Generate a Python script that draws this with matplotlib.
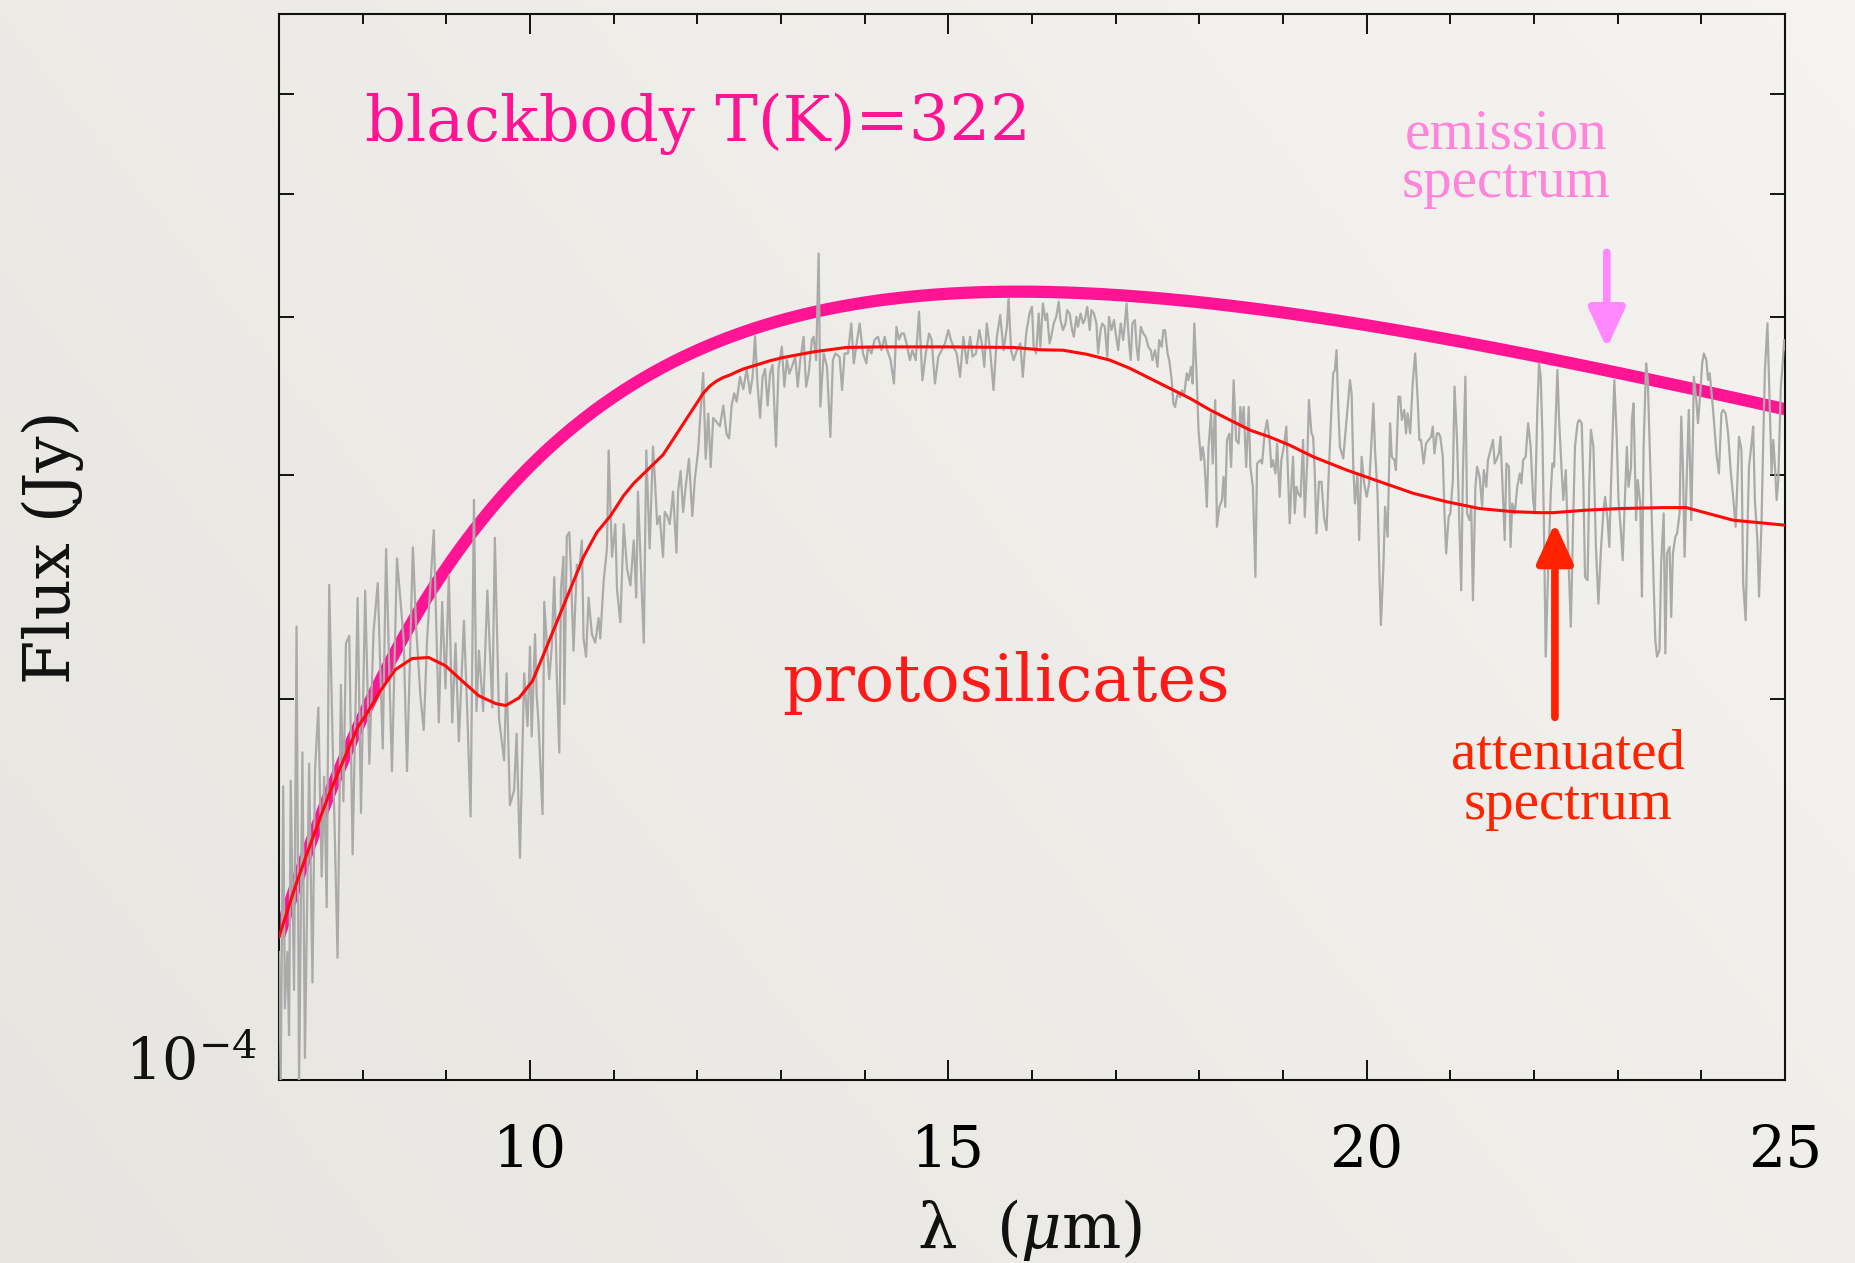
import numpy as np
import matplotlib
matplotlib.use("Agg")
import matplotlib.pyplot as plt
from matplotlib.ticker import FixedLocator, NullFormatter
import matplotlib.transforms as mtransforms

# ---------------------------------------------------------------
# Observed mid-IR spectrum: wavelength (micron), flux (1e-4 Jy)
# ---------------------------------------------------------------
obs_wl = [
    7.00, 7.02, 7.05, 7.07, 7.10, 7.12, 7.14, 7.18, 7.21, 7.24, 7.28, 7.31, 7.36, 7.40,
    7.43, 7.47, 7.51, 7.54, 7.57, 7.60, 7.64, 7.70, 7.74, 7.77, 7.80, 7.84, 7.88, 7.94,
    7.98, 8.03, 8.08, 8.13, 8.18, 8.24, 8.28, 8.35, 8.41, 8.49, 8.53, 8.60, 8.64, 8.69,
    8.73, 8.77, 8.85, 8.91, 8.95, 8.99, 9.03, 9.07, 9.11, 9.15, 9.21, 9.25, 9.29, 9.33,
    9.36, 9.39, 9.44, 9.49, 9.55, 9.58, 9.63, 9.69, 9.72, 9.76, 9.81, 9.84, 9.88, 9.93,
    9.97,
    10.00, 10.02, 10.06, 10.08, 10.10, 10.15, 10.17, 10.20, 10.23, 10.26, 10.29, 10.32,
    10.35, 10.37, 10.40, 10.41, 10.44, 10.47, 10.49, 10.52, 10.56, 10.59, 10.62, 10.64,
    10.67, 10.70, 10.74, 10.78, 10.82, 10.84, 10.88, 10.92, 10.94, 10.98, 11.02, 11.04,
    11.08, 11.12, 11.16, 11.20, 11.24, 11.27, 11.29, 11.33, 11.36, 11.39, 11.43, 11.47,
    11.49, 11.52, 11.55, 11.59, 11.61, 11.64, 11.67, 11.71, 11.75, 11.77, 11.80, 11.83,
    11.86, 11.90, 11.94, 11.97, 12.01, 12.04, 12.07, 12.10, 12.13, 12.16, 12.19, 12.23,
    12.27, 12.31, 12.35, 12.38, 12.41, 12.44, 12.47, 12.51, 12.55, 12.59, 12.63, 12.66,
    12.69, 12.72, 12.75, 12.78, 12.81, 12.84, 12.87, 12.90, 12.94, 12.97,
    13.01, 13.04, 13.07, 13.10, 13.13, 13.17, 13.20, 13.23, 13.27, 13.30, 13.33, 13.37,
    13.39, 13.42, 13.45, 13.47, 13.51, 13.55, 13.59, 13.62, 13.65, 13.70, 13.73, 13.76,
    13.80, 13.84, 13.87, 13.91, 13.94, 13.98, 14.02, 14.04, 14.08, 14.12, 14.16, 14.20,
    14.24, 14.27, 14.31, 14.35, 14.38, 14.41, 14.44, 14.47, 14.50, 14.54, 14.57, 14.61,
    14.65, 14.69, 14.73, 14.77, 14.80, 14.84, 14.88, 14.92, 14.96, 15.00, 15.03, 15.06,
    15.10, 15.14, 15.18, 15.22, 15.26, 15.29, 15.33, 15.37, 15.40, 15.43, 15.46, 15.50,
    15.54, 15.58, 15.62, 15.66, 15.70, 15.72, 15.75, 15.78, 15.82, 15.86, 15.89, 15.93,
    15.97,
    16.00, 16.02, 16.05, 16.08, 16.10, 16.13, 16.16, 16.18, 16.21, 16.23, 16.26, 16.29,
    16.32, 16.34, 16.37, 16.40, 16.42, 16.45, 16.48, 16.50, 16.53, 16.55, 16.58, 16.61,
    16.63, 16.66, 16.69, 16.71, 16.74, 16.77, 16.79, 16.82, 16.84, 16.87, 16.90, 16.92,
    16.95, 16.98, 17.00, 17.03, 17.06, 17.09, 17.11, 17.13, 17.16, 17.18, 17.20, 17.23,
    17.25, 17.27, 17.30, 17.33, 17.36, 17.39, 17.42, 17.44, 17.47, 17.50, 17.52, 17.55,
    17.57, 17.59, 17.62, 17.64, 17.67, 17.69, 17.71, 17.74, 17.77, 17.79, 17.82, 17.85,
    17.87, 17.90, 17.92, 17.94, 17.97, 17.99, 18.02, 18.04, 18.06, 18.09, 18.11, 18.14,
    18.16, 18.19, 18.21, 18.24, 18.27, 18.29, 18.31, 18.33, 18.36, 18.38, 18.41, 18.44,
    18.47, 18.49, 18.51, 18.53, 18.56, 18.59, 18.61, 18.64, 18.67, 18.69, 18.73, 18.75,
    18.78, 18.81, 18.84, 18.86, 18.88, 18.91, 18.93,
    18.96, 18.98, 19.01, 19.04, 19.06, 19.08, 19.10, 19.12, 19.14, 19.16, 19.18, 19.21,
    19.24, 19.26, 19.29, 19.31, 19.34, 19.36, 19.38, 19.40, 19.43, 19.46, 19.49, 19.52,
    19.55, 19.58, 19.60, 19.62, 19.64, 19.66, 19.68, 19.72, 19.76, 19.80, 19.82, 19.84,
    19.86, 19.89, 19.91, 19.94, 19.97, 20.00, 20.03, 20.05, 20.08, 20.10, 20.13, 20.15,
    20.17, 20.20, 20.22, 20.25, 20.28, 20.30, 20.33, 20.35, 20.38, 20.40, 20.42, 20.45,
    20.47, 20.49, 20.52, 20.55, 20.58, 20.61, 20.63, 20.65, 20.68, 20.71, 20.74, 20.77,
    20.79, 20.81, 20.84, 20.86, 20.88, 20.91, 20.93, 20.95, 20.98, 21.00, 21.03, 21.05,
    21.08, 21.10, 21.13, 21.15, 21.18, 21.20, 21.23, 21.25, 21.27, 21.30, 21.32, 21.35,
    21.38, 21.40, 21.43, 21.45, 21.48, 21.51, 21.53, 21.55, 21.58, 21.60, 21.63, 21.65,
    21.67, 21.70, 21.72, 21.74, 21.77, 21.80,
    21.83, 21.85, 21.87, 21.90, 21.93, 21.96, 21.99, 22.01, 22.04, 22.06, 22.08, 22.10,
    22.12, 22.14, 22.17, 22.20, 22.22, 22.24, 22.26, 22.28, 22.30, 22.33, 22.35, 22.38,
    22.41, 22.44, 22.47, 22.49, 22.52, 22.54, 22.57, 22.59, 22.61, 22.64, 22.66, 22.68,
    22.71, 22.74, 22.77, 22.80, 22.83, 22.85, 22.88, 22.90, 22.92, 22.94, 22.96, 22.99,
    23.01, 23.04, 23.06, 23.08, 23.11, 23.13, 23.16, 23.17, 23.19, 23.22, 23.24, 23.27,
    23.29, 23.31, 23.34, 23.36, 23.39, 23.42, 23.45, 23.47, 23.50, 23.52, 23.55, 23.57,
    23.59, 23.62, 23.64, 23.66, 23.69, 23.71, 23.74, 23.76, 23.78, 23.80, 23.82, 23.85,
    23.88, 23.90, 23.91, 23.94, 23.96, 23.99, 24.01, 24.03, 24.06, 24.08, 24.10, 24.13,
    24.15, 24.18, 24.21, 24.24, 24.26, 24.29, 24.32, 24.35, 24.38, 24.41, 24.43, 24.45,
    24.48, 24.50, 24.53, 24.55, 24.57, 24.60, 24.62, 24.64, 24.67, 24.69, 24.72, 24.74,
    24.76, 24.79, 24.81, 24.84, 24.86, 24.88, 24.90, 24.92, 24.95, 24.97, 24.99, 25.01,
]
obs_flux = [
    1.262, 0.990, 1.705, 1.139, 1.262, 1.085, 1.723, 1.178, 2.280, 0.990, 1.814, 1.041, 1.777, 1.194,
    1.753, 1.968, 1.447, 1.735, 1.369, 2.459, 1.864, 1.249, 2.051, 1.659, 2.211, 2.242, 1.507, 2.401,
    1.625, 2.434, 1.777, 2.258, 2.467, 1.826, 2.624, 1.753, 2.580, 2.227, 1.753, 2.633, 2.273, 2.010,
    1.889, 2.227, 2.716, 1.915, 2.384, 2.037, 2.502, 1.915, 2.211, 1.851, 2.304, 1.955, 1.614, 2.869,
    1.955, 2.182, 1.955, 2.434, 1.968, 2.679, 1.928, 1.788, 2.094, 1.648, 1.693, 1.876, 1.497, 2.094,
    1.902,
    2.198, 1.867, 2.248, 2.011, 1.923, 1.621, 2.385, 2.214, 2.072, 2.198, 2.494, 2.087,
    1.813, 2.439, 2.588, 1.981, 2.686, 2.706, 2.512, 2.182, 2.550, 2.531, 2.666, 2.231,
    2.158, 2.403, 2.248, 2.214, 2.315, 2.231, 2.476, 2.627, 3.140, 2.588, 2.746, 2.439,
    2.298, 2.746, 2.531, 2.457, 2.666, 2.403, 2.914, 2.494, 2.214, 3.140, 2.627, 3.162,
    3.002, 2.746, 2.787, 2.588, 2.808, 2.787, 2.746, 2.914, 2.608, 2.914, 3.024, 2.808,
    2.936, 3.092, 2.787, 2.980, 3.140, 3.381, 3.614, 3.092, 3.356, 3.047, 3.331, 3.306,
    3.281, 3.406, 3.233, 3.209, 3.406, 3.483, 3.431, 3.588, 3.509, 3.641, 3.483, 3.588,
    3.864, 3.535, 3.331, 3.588, 3.641, 3.406, 3.614, 3.668, 3.162, 3.641,
    3.791, 3.525, 3.700, 3.610, 3.655, 3.722, 3.525, 3.700, 3.860, 3.525, 3.610, 3.840,
    3.860, 3.700, 4.491, 3.400, 3.745, 3.655, 3.218, 3.700, 3.745, 3.722, 3.504, 3.745,
    3.745, 3.954, 3.678, 3.840, 3.954, 3.745, 3.678, 3.791, 3.745, 3.840, 3.860, 3.767,
    3.860, 3.767, 3.700, 3.546, 3.930, 3.840, 3.883, 3.883, 3.814, 3.700, 3.767, 3.700,
    4.040, 3.567, 3.745, 3.883, 3.840, 3.546, 3.722, 3.767, 3.814, 3.907, 3.840, 3.791,
    3.745, 3.589, 3.860, 3.678, 3.860, 3.722, 3.745, 3.907, 3.814, 3.655, 3.954, 3.767,
    3.504, 3.860, 4.016, 3.767, 3.930, 4.139, 3.767, 3.700, 3.767, 3.814, 3.589, 3.883,
    4.027,
    4.076, 3.790, 3.745, 4.027, 3.790, 4.101, 3.979, 4.027, 3.814, 3.860, 3.955, 4.003,
    4.114, 3.979, 3.907, 3.955, 4.052, 4.027, 3.907, 3.860, 4.003, 3.931, 4.027, 3.955,
    3.979, 4.076, 3.907, 4.052, 4.027, 3.955, 3.745, 3.907, 3.955, 3.931, 3.722, 4.003,
    3.907, 3.979, 3.884, 3.767, 3.955, 3.837, 3.955, 4.101, 3.814, 3.700, 3.955, 3.979,
    3.790, 3.700, 3.931, 3.884, 3.860, 3.790, 3.767, 3.700, 3.767, 3.655, 3.837, 3.790,
    3.907, 3.907, 3.745, 3.700, 3.567, 3.419, 3.398, 3.481, 3.460, 3.502, 3.481, 3.612,
    3.567, 3.655, 3.546, 3.955, 3.567, 3.257, 3.085, 3.160, 3.085, 2.834, 3.160, 3.357,
    3.066, 3.440, 2.733, 2.834, 2.868, 2.992, 2.834, 3.199, 3.237, 3.047, 3.567, 3.199,
    3.179, 3.398, 3.277, 3.398, 3.047, 3.398, 3.047, 2.938, 2.495, 3.066, 3.085, 3.066,
    3.237, 3.317, 3.199, 3.047, 3.085, 3.011, 3.179,
    2.886, 3.085, 3.161, 3.279, 3.011, 2.750, 2.939, 3.104, 2.800, 2.939, 2.904, 2.886,
    3.200, 2.783, 3.085, 3.441, 3.239, 3.219, 3.011, 2.700, 2.966, 2.966, 2.783, 2.716,
    3.048, 3.400, 3.612, 3.634, 3.768, 3.400, 3.161, 3.094, 3.319, 3.568, 3.483, 3.048,
    2.851, 3.011, 2.668, 3.104, 2.957, 2.886, 2.957, 3.123, 3.420, 3.142, 2.904, 2.541,
    2.286, 2.541, 2.834, 2.684, 3.299, 3.104, 3.085, 3.030, 3.462, 3.462, 3.319, 3.380,
    3.239, 3.359, 3.239, 3.547, 3.745, 3.441, 3.200, 3.200, 3.066, 3.180, 3.200, 3.219,
    3.279, 3.123, 3.239, 3.239, 3.219, 3.104, 2.800, 2.604, 2.783, 2.800, 2.975, 3.526,
    3.200, 2.869, 2.435, 3.011, 3.590, 2.800, 2.766, 2.834, 2.391, 2.939, 3.048, 2.993,
    2.834, 3.030, 2.939, 3.085, 3.142, 3.200, 3.066, 3.085, 3.123, 3.219, 2.869, 2.668,
    3.066, 3.048, 2.635, 2.851, 2.800, 2.939,
    3.011, 2.957, 3.085, 3.104, 3.299, 3.161, 2.869, 2.800, 3.380, 3.678, 3.590, 3.239,
    2.700, 2.158, 2.541, 2.904, 3.066, 3.048, 3.339, 3.634, 3.319, 3.030, 2.869, 3.030,
    2.604, 2.279, 2.800, 3.161, 3.299, 3.319, 3.299, 2.957, 2.495, 2.480, 2.939, 3.259,
    3.161, 2.635, 2.377, 2.620, 2.817, 2.886, 2.766, 2.635, 2.939, 3.239, 3.568, 3.200,
    2.869, 2.700, 2.572, 2.800, 3.161, 2.939, 3.048, 3.319, 3.420, 2.766, 2.975, 2.851,
    2.407, 3.161, 3.678, 3.568, 3.048, 2.604, 2.224, 2.158, 2.184, 2.556, 2.800, 2.171,
    2.604, 2.635, 2.320, 2.604, 2.684, 2.700, 2.800, 3.339, 3.048, 2.588, 2.904, 3.380,
    2.766, 3.239, 3.590, 3.441, 3.299, 3.504, 3.678, 3.745, 3.700, 3.568, 3.612, 3.441,
    3.319, 3.123, 3.011, 3.359, 3.380, 3.359, 3.239, 3.030, 2.886, 2.733, 2.957, 3.219,
    3.142, 2.465, 2.306, 2.700, 3.048, 3.180, 3.279, 2.869, 2.668, 2.407, 2.766, 3.200,
    3.634, 3.956, 3.547, 3.011, 3.200, 3.048, 2.869, 2.975, 3.526, 3.656, 3.837, 3.768,
]

# Attenuated model spectrum (protosilicates), flux in 1e-4 Jy
model_wl = [7.00, 7.20, 7.40, 7.60, 7.80, 7.94, 8.04, 8.20, 8.39, 8.59, 8.79, 8.99, 9.19,
            9.39, 9.59, 9.71, 9.87, 10.03, 10.16, 10.32, 10.48, 10.64, 10.80, 10.96,
            11.12, 11.24, 11.39, 11.59, 11.75, 11.91, 12.07, 12.15, 12.23, 12.31, 12.39,
            12.47, 12.55, 12.71, 12.87, 13.03, 13.39, 13.78, 14.18, 15.00, 15.78, 16.10,
            16.37, 16.65, 16.93, 17.17, 17.41, 17.65, 17.89, 18.13, 18.37, 18.61, 18.84,
            19.08, 19.36, 19.76, 20.16, 20.56, 20.96, 21.35, 21.75, 22.07, 22.23, 22.63,
            23.03, 23.55, 23.82, 24.38, 25.00]
model_flux = [1.297, 1.425, 1.551, 1.682, 1.807, 1.898, 1.942, 2.023, 2.108, 2.151, 2.155,
              2.123, 2.065, 2.010, 1.982, 1.975, 2.003, 2.065, 2.165, 2.298, 2.439, 2.588,
              2.706, 2.787, 2.893, 2.958, 3.024, 3.115, 3.233, 3.356, 3.483, 3.530, 3.562,
              3.585, 3.601, 3.622, 3.641, 3.668, 3.696, 3.718, 3.756, 3.786, 3.790, 3.790,
              3.786, 3.770, 3.767, 3.740, 3.700, 3.645, 3.579, 3.514, 3.451, 3.379, 3.317,
              3.257, 3.218, 3.170, 3.104, 3.030, 2.966, 2.904, 2.860, 2.825, 2.809, 2.804,
              2.804, 2.817, 2.825, 2.830, 2.830, 2.766, 2.741]

# Blackbody emission: temperature and peak flux density (1e-4 Jy)
bb_temperature = 322.0
bb_peak_flux = 4.19

UNIT = 1e-4
x_major = [10, 15, 20, 25]
x_minor = [7, 8, 9, 11, 12, 13, 14, 16, 17, 18, 19, 21, 22, 23, 24]
y_minor = [2e-4, 3e-4, 4e-4, 5e-4, 6e-4]


def planck_nu_shape(lam_um, temp):
    """B_nu(T) as a function of wavelength, arbitrary normalisation."""
    x = 14387.77 / (lam_um * temp)
    return x ** 3 / np.expm1(x)


# ---------------------------------------------------------------
plt.rcParams["mathtext.fontset"] = "dejavuserif"
HERSHEY = "DejaVu Serif"
SERIF = "Liberation Serif"
INK = "#111111"

W, H = 1856, 1263
fig = plt.figure(figsize=(W / 100, H / 100), dpi=100)
fig.patch.set_facecolor("#eeece7")

# paper-like background shading
bg = fig.add_axes([0, 0, 1, 1], zorder=-10)
bg.axis("off")
gx = np.linspace(0, 1, 256)[None, :]
gy = np.linspace(0, 1, 256)[:, None]
lo = np.array([0.905, 0.898, 0.880])
hi = np.array([0.960, 0.955, 0.940])
t = np.clip(0.65 * gx + 0.35 * (1 - gy), 0, 1)[..., None]
bg.imshow(lo + (hi - lo) * t, extent=[0, 1, 0, 1], aspect="auto", origin="upper")
bg.set_xlim(0, 1)
bg.set_ylim(0, 1)

ax = fig.add_axes([279 / W, 1 - 1080 / H, (1785 - 279) / W, (1080 - 14) / H])
ax.set_facecolor("none")

# blackbody curve for the stated temperature, scaled to its peak
lam = np.linspace(7.0, 25.0, 600)
shape = planck_nu_shape(lam, bb_temperature)
lam_fine = np.linspace(3.0, 60.0, 6000)
bb = shape / planck_nu_shape(lam_fine, bb_temperature).max() * bb_peak_flux * UNIT
ax.plot(lam, bb, color="#ff1493", lw=8.8, solid_capstyle="butt", zorder=2)

ax.plot(obs_wl, np.array(obs_flux) * UNIT, color="#aaaaaa", lw=1.6, zorder=3)
ax.plot(model_wl, np.array(model_flux) * UNIT, color="#ff0a0a", lw=2.2, zorder=4)

ax.set_yscale("log")
ax.set_xlim(7, 25)
ax.set_ylim(1e-4, 6.94e-4)

ax.xaxis.set_major_locator(FixedLocator(x_major))
ax.xaxis.set_minor_locator(FixedLocator(x_minor))
ax.yaxis.set_major_locator(FixedLocator([1e-4]))
ax.yaxis.set_minor_locator(FixedLocator(y_minor))
ax.yaxis.set_major_formatter(NullFormatter())
ax.yaxis.set_minor_formatter(NullFormatter())
ax.set_xticklabels([str(v) for v in x_major], family=HERSHEY, fontsize=42)

ax.tick_params(axis="both", which="both", direction="in", top=True, right=True,
               color=INK, width=1.4)
ax.tick_params(axis="x", which="major", length=14.5, pad=31)
ax.tick_params(axis="x", which="minor", length=7.5)
ax.tick_params(axis="y", which="major", length=14.5)
ax.tick_params(axis="y", which="minor", length=11)
for sp in ax.spines.values():
    sp.set_linewidth(1.5)
    sp.set_color(INK)

# bottom-left decade label
ax.text(-0.015, 1e-4, r"$10^{-4}$", transform=mtransforms.blended_transform_factory(
    ax.transAxes, ax.transData), ha="right", va="baseline", fontsize=41,
    family=HERSHEY, color=INK)

ax.set_xlabel(r"λ  ($\mu$m)", family=HERSHEY, fontsize=45, va="center", color=INK)
ax.xaxis.set_label_coords(0.4987, -0.141)
ax.set_ylabel("Flux (Jy)", family=HERSHEY, fontsize=46, va="center", ha="center",
              color=INK)
ax.yaxis.set_label_coords(-0.150, 0.5)

# annotations
ax.text(0.057, 0.897, "blackbody T(K)=322", transform=ax.transAxes, ha="left",
        va="center", fontsize=46, family=HERSHEY, color="#ff1493")
ax.text(0.483, 0.372, "protosilicates", transform=ax.transAxes, ha="center",
        va="center", fontsize=47, family=HERSHEY, color="#ff1a1a")

ax.text(0.815, 0.887, "emission", transform=ax.transAxes, ha="center", va="center",
        fontsize=41, family=SERIF, color="#ff84dc")
ax.text(0.815, 0.841, "spectrum", transform=ax.transAxes, ha="center", va="center",
        fontsize=41, family=SERIF, color="#ff84dc")
ax.text(0.856, 0.305, "attenuated", transform=ax.transAxes, ha="center", va="center",
        fontsize=41, family=SERIF, color="#ff2400")
ax.text(0.856, 0.258, "spectrum", transform=ax.transAxes, ha="center", va="center",
        fontsize=41, family=SERIF, color="#ff2400")

ax.annotate("", xy=(22.87, 3.78e-4), xytext=(22.87, 4.50e-4),
            arrowprops=dict(arrowstyle="-|>,head_length=24,head_width=11",
                            mutation_scale=1, lw=5.5, color="#ff88ff",
                            shrinkA=0, shrinkB=0), zorder=5)
ax.annotate("", xy=(22.25, 2.752e-4), xytext=(22.25, 1.933e-4),
            arrowprops=dict(arrowstyle="-|>,head_length=24,head_width=11",
                            mutation_scale=1, lw=5.5, color="#ff2200",
                            shrinkA=0, shrinkB=0), zorder=5)

fig.savefig("out.png", dpi=100, facecolor=fig.get_facecolor())
